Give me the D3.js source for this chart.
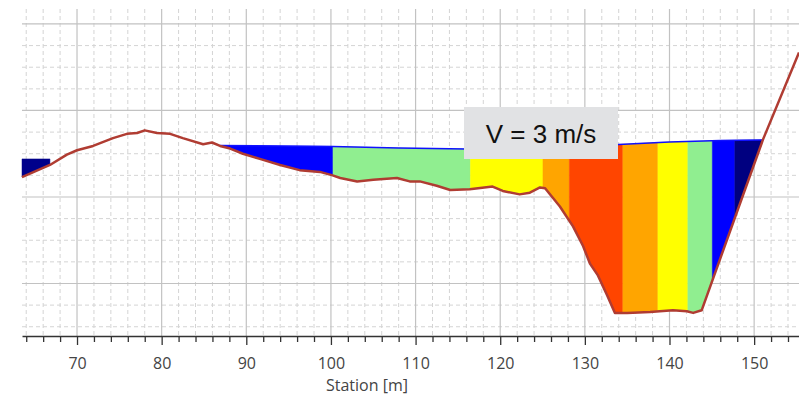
<!DOCTYPE html>
<html>
<head>
<meta charset="utf-8">
<script src="https://cdn.jsdelivr.net/npm/d3@7"></script>
<style>
  body { margin: 0; background: #fff; }
  svg { display: block; }
</style>
</head>
<body>
<svg id="chart"></svg>
<script>
// ground profile (station m, elevation m)
var groundStation = [63.5, 66.8, 68.8, 70.0, 71.9, 74.25, 75.9, 77.1, 78.0, 79.45, 81.0, 82.5, 84.9, 85.95, 86.9,
  88.1, 89.6, 91.6, 94.0, 96.3, 98.7, 100.2, 101.1, 103.1, 105.0, 107.8, 109.3, 110.5, 112.5, 114.1, 116.4,
  119.1, 120.3, 122.3, 123.5, 124.7, 125.3, 127.05, 128.6, 129.8, 130.6, 131.5, 132.6, 133.55, 135.0, 137.7,
  140.4, 142.05, 142.8, 143.8, 151.03, 155.3];
var groundElev = [101.23, 101.37, 101.49, 101.54, 101.59, 101.68, 101.73, 101.74, 101.77, 101.74, 101.73, 101.68, 101.61, 101.63, 101.59,
  101.56, 101.50, 101.44, 101.37, 101.31, 101.29, 101.25, 101.22, 101.18, 101.20, 101.22, 101.18, 101.18, 101.13, 101.08, 101.09,
  101.12, 101.07, 101.03, 101.05, 101.11, 101.10, 100.89, 100.66, 100.43, 100.23, 100.10, 99.87, 99.66, 99.66, 99.67,
  99.69, 99.68, 99.66, 99.69, 101.66, 102.67];

// water surface of the main channel
var wsStation = [86.9, 100.2, 108, 116, 125, 134, 140, 146, 151.03];
var wsElev = [101.595, 101.584, 101.566, 101.555, 101.572, 101.607, 101.636, 101.653, 101.659];

// ponded area at the left bank
var pondStation = [63.5, 66.8];
var pondElev = 101.44;
var pondColor = "#00008b";

// velocity slices
var bandEdges = [86.9, 100.24, 116.48, 125.05, 128.17, 134.49, 138.63, 142.17, 145.06, 147.72, 151.03];
var bandColors = ["#0000ff", "#90ee90", "#ffff00", "#ffa500", "#ff4500", "#ffa500", "#ffff00", "#90ee90", "#0000ff", "#000080"];

var majorTicks = [70, 80, 90, 100, 110, 120, 130, 140, 150];
var minorTicks = d3.range(64, 156, 2).filter(function(d) { return d % 10 != 0; });
var yMajor = [100, 101, 102, 103];
var yMinor = d3.range(99.5, 103.01, 0.25).filter(function(d) { return d % 1 != 0; });

var labelText = "V = 3 m/s";

var W = 799, H = 399;
var plotLeft = 22, plotRight = 799, plotTop = 9, plotBottom = 336;

var svg = d3.select("#chart").attr("width", W).attr("height", H);

var x = d3.scaleLinear().domain([63.5, 155.3]).range([plotLeft, plotRight]);
var y = d3.scaleLinear().domain([99.393, 103.173]).range([plotBottom, plotTop]);

function interp(xs, ys, s) {
  var i = d3.bisectRight(xs, s);
  if (i <= 0) return ys[0];
  if (i >= xs.length) return ys[xs.length - 1];
  var t = (s - xs[i - 1]) / (xs[i] - xs[i - 1]);
  return ys[i - 1] + t * (ys[i] - ys[i - 1]);
}

// grid
var grid = svg.append("g");
grid.selectAll(".vminor").data(minorTicks).enter().append("line")
  .attr("x1", function(d) { return x(d); }).attr("x2", function(d) { return x(d); })
  .attr("y1", plotTop).attr("y2", plotBottom)
  .attr("stroke", "#d4d4d4").attr("stroke-dasharray", "4,3");
grid.selectAll(".hminor").data(yMinor).enter().append("line")
  .attr("x1", plotLeft).attr("x2", plotRight)
  .attr("y1", function(d) { return y(d); }).attr("y2", function(d) { return y(d); })
  .attr("stroke", "#d4d4d4").attr("stroke-dasharray", "4,3");
grid.selectAll(".vmajor").data(majorTicks).enter().append("line")
  .attr("x1", function(d) { return x(d); }).attr("x2", function(d) { return x(d); })
  .attr("y1", plotTop).attr("y2", plotBottom)
  .attr("stroke", "#c2c2c2").attr("stroke-width", 1.2);
grid.selectAll(".hmajor").data(yMajor).enter().append("line")
  .attr("x1", plotLeft).attr("x2", plotRight)
  .attr("y1", function(d) { return y(d); }).attr("y2", function(d) { return y(d); })
  .attr("stroke", "#c2c2c2").attr("stroke-width", 1.2);

// slice polygons between water surface and ground
function slicePoints(s0, s1, wsAt) {
  var pts = [];
  pts.push([s0, wsAt(s0)]);
  wsStation.forEach(function(s) { if (s > s0 && s < s1) pts.push([s, wsAt(s)]); });
  pts.push([s1, wsAt(s1)]);
  pts.push([s1, interp(groundStation, groundElev, s1)]);
  for (var i = groundStation.length - 1; i >= 0; i--) {
    if (groundStation[i] < s1 && groundStation[i] > s0) pts.push([groundStation[i], groundElev[i]]);
  }
  pts.push([s0, interp(groundStation, groundElev, s0)]);
  return pts;
}

var line = d3.line().x(function(d) { return x(d[0]); }).y(function(d) { return y(d[1]); });

var bands = bandColors.map(function(c, i) {
  return { color: c, pts: slicePoints(bandEdges[i], bandEdges[i + 1], function(s) { return interp(wsStation, wsElev, s); }) };
});
bands.push({ color: pondColor, pts: slicePoints(pondStation[0], pondStation[1], function() { return pondElev; }) });

svg.append("g").selectAll("path").data(bands).enter().append("path")
  .attr("d", function(d) { return line(d.pts) + "Z"; })
  .attr("fill", function(d) { return d.color; })
  .attr("stroke", function(d) { return d.color; })
  .attr("stroke-width", 0.5);

// water surface line
svg.append("path")
  .attr("d", line(wsStation.map(function(s, i) { return [s, wsElev[i]]; })))
  .attr("fill", "none").attr("stroke", "#1010ff").attr("stroke-width", 1.5);

// ground line
svg.append("path")
  .attr("d", line(groundStation.map(function(s, i) { return [s, groundElev[i]]; })))
  .attr("fill", "none").attr("stroke", "#b03c32").attr("stroke-width", 2.5)
  .attr("stroke-linejoin", "round");

// x axis
svg.append("g")
  .attr("transform", "translate(0," + plotBottom + ")")
  .call(d3.axisBottom(x).tickValues(minorTicks).tickSize(6).tickSizeOuter(0).tickFormat(""))
  .call(function(g) { g.select(".domain").remove(); })
  .selectAll("line").attr("stroke", "#333").attr("stroke-width", 1.3);

var ax = svg.append("g")
  .attr("transform", "translate(0," + plotBottom + ")")
  .call(d3.axisBottom(x).tickValues(majorTicks).tickSize(9).tickSizeOuter(0).tickPadding(13));
ax.select(".domain").attr("stroke", "#333").attr("stroke-width", 1.5);
ax.selectAll("line").attr("stroke", "#333").attr("stroke-width", 1.3);
ax.selectAll("text").attr("font-family", "'Open Sans', sans-serif").attr("font-size", 16).attr("fill", "#444");

svg.append("text")
  .attr("x", 367).attr("y", 391)
  .attr("text-anchor", "middle")
  .attr("font-family", "'Open Sans', sans-serif").attr("font-size", 16).attr("fill", "#444")
  .text("Station [m]");

// annotation box
svg.append("rect")
  .attr("x", 464).attr("y", 107).attr("width", 154).attr("height", 52)
  .attr("fill", "#e1e2e4");
svg.append("text")
  .attr("x", 541).attr("y", 143)
  .attr("text-anchor", "middle")
  .attr("font-family", "'Liberation Sans', Arial, sans-serif").attr("font-size", 26).attr("fill", "#111")
  .text(labelText);
</script>
</body>
</html>
